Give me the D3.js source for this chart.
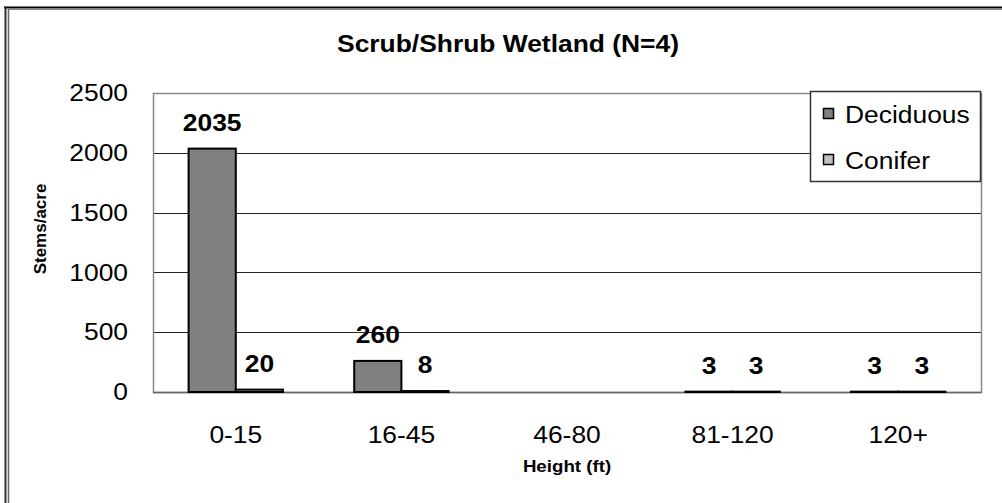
<!DOCTYPE html>
<html>
<head>
<meta charset="utf-8">
<script src="https://cdn.jsdelivr.net/npm/d3@7"></script>
<style>
  html, body { margin: 0; padding: 0; background: #fff; }
  svg { display: block; font-family: Arial, "Liberation Sans", sans-serif; }
</style>
</head>
<body>
<svg id="chart" width="1002" height="503"></svg>
<script>
// Stem density by tree height class
const categories = ["0-15", "16-45", "46-80", "81-120", "120+"];
const seriesNames = ["Deciduous", "Conifer"];
const deciduous = [2035, 260, null, 3, 3];
const conifer = [20, 8, null, 3, 3];
const yTicks = [0, 500, 1000, 1500, 2000, 2500];

const title = "Scrub/Shrub Wetland (N=4)";
const yTitle = "Stems/acre";
const xTitle = "Height (ft)";

const colors = { Deciduous: "#808080", Conifer: "#c0c0c0" };

const svg = d3.select("#chart");
const W = 1002, H = 503;
const plot = { left: 153, right: 981, top: 93, bottom: 392 };

// Text is drawn slightly wide; keep each label's anchor point fixed
const SX = 1.1;
function widen(sel) {
  sel.each(function () {
    const t = d3.select(this);
    const x = +(t.attr("x") || 0);
    t.attr("transform", `translate(${x * (1 - SX)},0) scale(${SX},1)`);
  });
}

// Chart frame (top and left edges)
svg.append("line").attr("x1", 4).attr("x2", W).attr("y1", 7.5).attr("y2", 7.5)
  .attr("stroke", "#000").attr("stroke-width", 2);
svg.append("line").attr("x1", 8).attr("x2", W).attr("y1", 9.5).attr("y2", 9.5)
  .attr("stroke", "#888").attr("stroke-width", 1);
svg.append("line").attr("x1", 5.5).attr("x2", 5.5).attr("y1", 6.5).attr("y2", H)
  .attr("stroke", "#333").attr("stroke-width", 2);
svg.append("line").attr("x1", 8.5).attr("x2", 8.5).attr("y1", 9).attr("y2", H)
  .attr("stroke", "#666").attr("stroke-width", 1.5);

const x0 = d3.scaleBand().domain(categories)
  .range([plot.left, plot.right]).paddingInner(0).paddingOuter(0);
const groupPad = 0.215;
const x1 = d3.scaleBand().domain(seriesNames)
  .range([x0.bandwidth() * groupPad, x0.bandwidth() * (1 - groupPad)]);
const y = d3.scaleLinear().domain([0, 2500]).range([plot.bottom, plot.top]);

// Gridlines
svg.append("g").selectAll("line").data(yTicks.filter(d => d > 0))
  .join("line")
  .attr("x1", plot.left).attr("x2", plot.right)
  .attr("y1", d => Math.round(y(d)) + 0.5).attr("y2", d => Math.round(y(d)) + 0.5)
  .attr("stroke", "#222").attr("stroke-width", 1);

// Plot area border
svg.append("rect")
  .attr("x", plot.left + 0.5).attr("y", plot.top + 0.5)
  .attr("width", plot.right - plot.left).attr("height", plot.bottom - plot.top)
  .attr("fill", "none").attr("stroke", "#888").attr("stroke-width", 1.5);

// Y axis
const yAxis = svg.append("g")
  .attr("transform", `translate(${plot.left},0)`)
  .call(d3.axisLeft(y).tickValues(yTicks).tickSize(0).tickPadding(25).tickFormat(d3.format("d")));
yAxis.select(".domain").remove();
yAxis.selectAll("text").attr("font-size", 24).attr("fill", "#000")
  .attr("font-family", "Arial, 'Liberation Sans', sans-serif").call(widen);

// X axis
const xAxis = svg.append("g")
  .attr("transform", `translate(0,${plot.bottom})`)
  .call(d3.axisBottom(x0).tickSize(0).tickPadding(34));
xAxis.select(".domain").remove();
xAxis.selectAll("text").attr("font-size", 24).attr("fill", "#000")
  .attr("font-family", "Arial, 'Liberation Sans', sans-serif").call(widen);

// Baseline
svg.append("line").attr("x1", plot.left).attr("x2", plot.right)
  .attr("y1", plot.bottom + 0.5).attr("y2", plot.bottom + 0.5)
  .attr("stroke", "#666").attr("stroke-width", 1.5);

// Bars
const rows = categories.map((c, i) => ({
  cat: c,
  values: [
    { key: "Deciduous", value: deciduous[i] },
    { key: "Conifer", value: conifer[i] }
  ]
}));

const groups = svg.append("g").selectAll("g").data(rows).join("g")
  .attr("transform", d => `translate(${x0(d.cat)},0)`);

groups.selectAll("rect").data(d => d.values.filter(v => v.value != null))
  .join("rect")
  .attr("x", d => x1(d.key))
  .attr("y", d => y(d.value))
  .attr("width", x1.bandwidth())
  .attr("height", d => y(0) - y(d.value))
  .attr("fill", d => colors[d.key])
  .attr("stroke", "#000").attr("stroke-width", 2);

groups.selectAll("text.val").data(d => d.values.filter(v => v.value != null))
  .join("text").attr("class", "val")
  .attr("x", d => x1(d.key) + x1.bandwidth() / 2)
  .attr("y", d => y(d.value) - 18)
  .attr("text-anchor", "middle")
  .attr("font-size", 24).attr("font-weight", "bold")
  .text(d => d.value)
  .call(widen);

// Title and axis titles
svg.append("text").attr("x", 508).attr("y", 52).attr("text-anchor", "middle")
  .attr("font-size", 24).attr("font-weight", "bold").text(title).call(widen);
svg.append("text").attr("transform", `translate(46,229) rotate(-90)`)
  .attr("text-anchor", "middle").attr("font-size", 17).attr("font-weight", "bold")
  .text(yTitle);
svg.append("text").attr("x", (plot.left + plot.right) / 2).attr("y", 472)
  .attr("text-anchor", "middle").attr("font-size", 17).attr("font-weight", "bold")
  .text(xTitle).call(widen);

// Legend
const lg = svg.append("g").attr("transform", "translate(810,91)");
lg.append("rect").attr("x", 0.5).attr("y", 0.5).attr("width", 170).attr("height", 90)
  .attr("fill", "#fff").attr("stroke", "#333").attr("stroke-width", 1.5);
const items = lg.selectAll("g").data(seriesNames).join("g")
  .attr("transform", (d, i) => `translate(0,${i * 46})`);
items.append("rect").attr("x", 13.5).attr("y", 17.5).attr("width", 10).attr("height", 10)
  .attr("fill", d => colors[d]).attr("stroke", "#000").attr("stroke-width", 1.5);
items.append("text").attr("x", 35).attr("y", 32)
  .attr("font-size", 24).text(d => d).call(widen);
</script>
</body>
</html>
